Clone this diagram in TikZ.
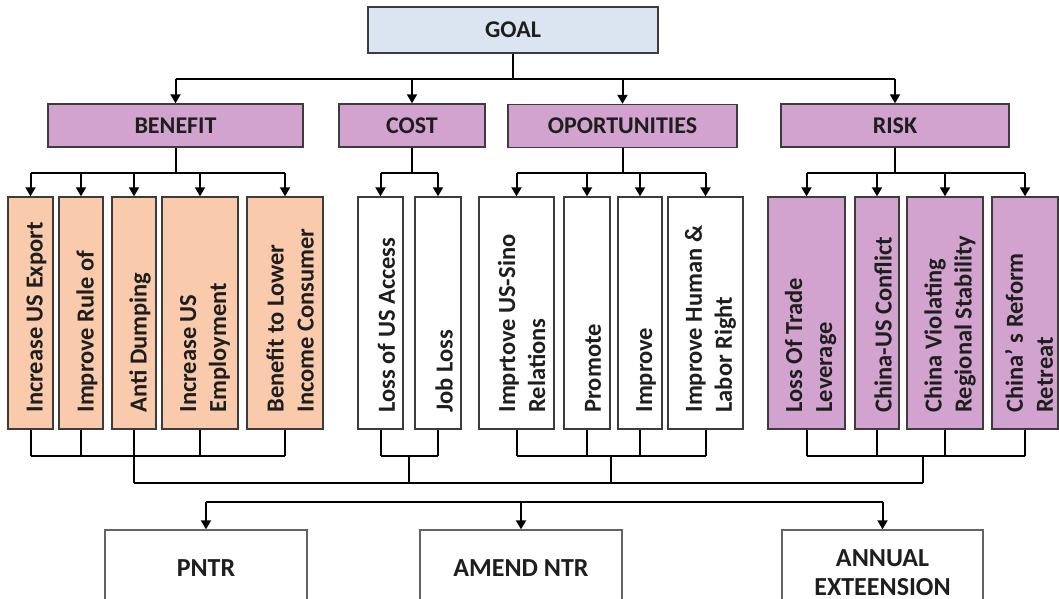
\documentclass[tikz,border=0pt]{standalone}
\usepackage{fontspec}
\setmainfont{Carlito}
\usetikzlibrary{arrows.meta,calc}
\definecolor{goalc}{HTML}{DBE5F1}
\definecolor{hdrc}{HTML}{D2A3CF}
\definecolor{peach}{HTML}{F9CBAC}
\definecolor{bord}{HTML}{3C3C3C}
\definecolor{txt}{HTML}{1E1E1E}
\begin{document}
\begin{tikzpicture}[x=1pt,y=-1pt,
  box/.style={draw=bord, line width=1.4pt, inner sep=0pt, text=txt},
  goalbox/.style={box, fill=goalc, minimum width=290pt, minimum height=46pt, font=\fontsize{24}{28}\selectfont\bfseries},
  hdr/.style={box, fill=hdrc, minimum height=43pt, font=\fontsize{24}{28}\selectfont\bfseries},
  leafbox/.style={box, minimum height=232pt},
  leafp/.style={leafbox, fill=peach},
  leafw/.style={leafbox, fill=white},
  leafr/.style={leafbox, fill=hdrc},
  leaftext/.style={rotate=90, anchor=west, inner sep=0pt, align=left, text=txt, font=\fontsize{24.5}{30}\selectfont\bfseries},
  botbox/.style={box, fill=white, draw=bord!80, minimum width=202pt, minimum height=76pt, align=center, font=\fontsize{26}{29}\selectfont\bfseries},
  line/.style={draw=black, line width=2pt},
  arr/.style={line, -{Triangle[width=10pt,length=9pt]}}
]
\useasboundingbox (0,0) rectangle (1059,599);
\clip (0,0) rectangle (1059,599);

% top level
\node[goalbox] (goal) at (513,30) {GOAL};
\node[hdr, minimum width=255pt] (ben) at (175.5,125.5) {BENEFIT};
\node[hdr, minimum width=146pt] (cost) at (412,125.5) {COST};
\node[hdr, minimum width=229pt] (opp) at (622.5,126) {OPORTUNITIES};
\node[hdr, minimum width=228pt] (risk) at (895,125.5) {RISK};

\coordinate (gbus) at ($(goal.south)+(0,25)$);
\draw[line] (goal.south) -- (gbus);
\draw[line] (ben.north |- gbus) -- (risk.north |- gbus);
\foreach \h in {ben,cost,opp,risk} \draw[arr] (\h.north |- gbus) -- (\h.north);

% leaves
\node[leafp, minimum width=45pt] (b1) at (30.5,313) {};
\node[leafp, minimum width=44pt] (b2) at (81,313) {};
\node[leafp, minimum width=44pt] (b3) at (134,313) {};
\node[leafp, minimum width=76pt] (b4) at (200,313) {};
\node[leafp, minimum width=76pt] (b5) at (285,313) {};
\node[leafw, minimum width=45pt] (c1) at (380.5,313) {};
\node[leafw, minimum width=46pt] (c2) at (438,313) {};
\node[leafw, minimum width=75pt] (o1) at (516.5,313) {};
\node[leafw, minimum width=46pt] (o2) at (587,313) {};
\node[leafw, minimum width=44pt] (o3) at (640,313) {};
\node[leafw, minimum width=75pt] (o4) at (705.5,313) {};
\node[leafr, minimum width=77pt] (r1) at (806.5,313) {};
\node[leafr, minimum width=44pt] (r2) at (877,313) {};
\node[leafr, minimum width=76pt] (r3) at (945,313) {};
\node[leafr, minimum width=66pt] (r4) at (1025,313) {};

\node[leaftext] (b1t) at ($(b1.south)+(6,-17)$) {Increase US Export};
\node[leaftext] (b2t) at ($(b2.south)+(6,-17)$) {Improve Rule of};
\node[leaftext] (b3t) at ($(b3.south)+(6,-17)$) {Anti Dumping};
\node[leaftext] (b4t) at ($(b4.south)+(5,-17)$) {Increase US\\Employment};
\node[leaftext] (b5t) at ($(b5.south)+(5,-17)$) {Benefit to Lower\\Income Consumer};
\node[leaftext] (c1t) at ($(c1.south)+(6,-17)$) {Loss of US Access};
\node[leaftext] (c2t) at ($(c2.south)+(6,-17)$) {Job Loss};
\node[leaftext] (o1t) at ($(o1.south)+(5,-17)$) {Imprtove US-Sino\\Relations};
\node[leaftext] (o2t) at ($(o2.south)+(6,-17)$) {Promote};
\node[leaftext] (o3t) at ($(o3.south)+(6,-17)$) {Improve};
\node[leaftext] (o4t) at ($(o4.south)+(5,-17)$) {Improve Human \&\\Labor Right};
\node[leaftext] (r1t) at ($(r1.south)+(4,-17)$) {Loss Of Trade\\Leverage};
\node[leaftext] (r2t) at ($(r2.south)+(6,-17)$) {China-US Conflict};
\node[leaftext] (r3t) at ($(r3.south)+(5,-17)$) {China Violating\\Regional Stability};
\node[leaftext] (r4t) at ($(r4.south)+(4,-17)$) {China’ s Reform\\Retreat};

% header -> leaves
\foreach \h/\a/\z/\list in {ben/b1/b5/{b1,b2,b3,b4,b5}, cost/c1/c2/{c1,c2}, opp/o1/o4/{o1,o2,o3,o4}, risk/r1/r4/{r1,r2,r3,r4}}{
  \coordinate (\h bus) at ($(\h.south)+(0,25)$);
  \draw[line] (\h.south) -- (\h bus);
  \draw[line] (\a.north |- \h bus) -- (\z.north |- \h bus);
  \foreach \n in \list \draw[arr] (\n.north |- \h bus) -- (\n.north);
}

% leaves -> lower buses
\foreach \a/\z/\list in {b1/b5/{b1,b2,b3,b4,b5}, c1/c2/{c1,c2}, o1/o4/{o1,o2,o3,o4}, r1/r4/{r1,r2,r3,r4}}{
  \coordinate (\a low) at ($(\a.south)+(0,26)$);
  \foreach \n in \list \draw[line] (\n.south) -- (\n.south |- \a low);
  \draw[line] (\a low) -- (\z.south |- \a low);
}
\coordinate (bstem) at ($(b3.south)+(0,26)$);
\coordinate (cstem) at ($(c1.south)!0.5!(c2.south)+(0,26)$);
\coordinate (ostem) at ($(o1.south)!0.5!(o4.south)+(0,26)$);
\coordinate (rstem) at ($(r1.south)!0.5!(r4.south)+(7,26)$);
\coordinate (join) at ($(bstem)+(0,27)$);
\foreach \s in {bstem,cstem,ostem,rstem} \draw[line] (\s) -- (\s |- join);
\draw[line] (bstem |- join) -- (rstem |- join);

% bottom
\node[botbox] (pntr) at (206,568) {PNTR};
\node[botbox] (amend) at (521,568) {AMEND NTR};
\node[botbox, minimum width=201pt] (annual) at (882.5,568) {};
\node[align=center, inner sep=0pt, text=txt, font=\fontsize{26}{29}\selectfont\bfseries] (annualt) at ($(annual.center)+(0,5)$) {ANNUAL\\EXTEENSION};
\coordinate (dbus) at ($(pntr.north)+(0,-27)$);
\draw[line] (pntr.north |- dbus) -- (annual.north |- dbus);
\foreach \n in {pntr,amend,annual} \draw[arr] (\n.north |- dbus) -- (\n.north);
\end{tikzpicture}
\end{document}
